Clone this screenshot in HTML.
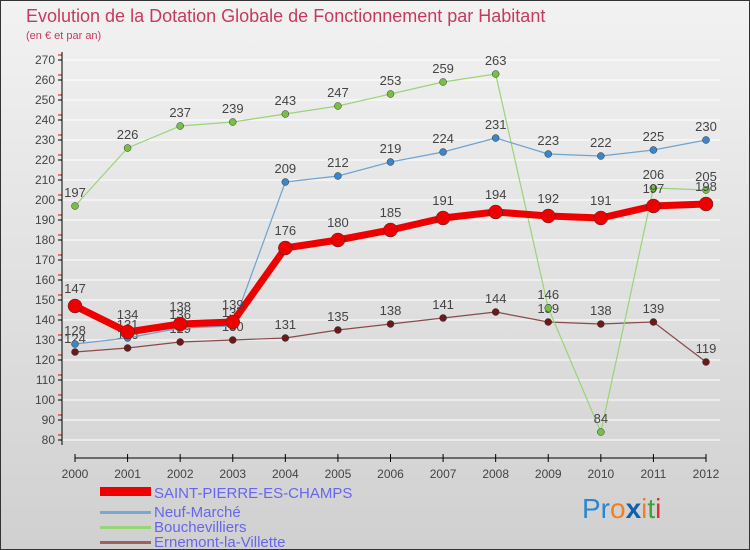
<!DOCTYPE html>
<html><head><meta charset="utf-8"><style>
body{margin:0;}
#wrap{width:750px;height:550px;position:relative;overflow:hidden;background:linear-gradient(#f2f2f2,#d0d0d0);font-family:"Liberation Sans",sans-serif;}
svg{position:absolute;left:0;top:0;}
</style></head><body>
<div id="wrap">
<svg id="chart" width="750" height="550">
<rect x="0.5" y="0.5" width="749" height="549" fill="none" stroke="#333"/>
<text x="26" y="22" font-size="18" fill="#c8395f">Evolution de la Dotation Globale de Fonctionnement par Habitant</text>
<text x="26" y="39" font-size="11" fill="#c8395f">(en € et par an)</text>
<g id="grid"></g><g id="axes"></g><g id="series"></g>
<g>
<rect x="100" y="487" width="51" height="9" fill="#e00"/>
<text x="154" y="498" font-size="15" fill="#6666ee">SAINT-PIERRE-ES-CHAMPS</text>
<rect x="100" y="511" width="51" height="3" fill="#7aa8d0"/>
<text x="154" y="517" font-size="15" fill="#6666ee">Neuf-Marché</text>
<rect x="100" y="526" width="51" height="3" fill="#99d477"/>
<text x="154" y="532" font-size="15" fill="#6666ee">Bouchevilliers</text>
<rect x="100" y="541" width="51" height="3" fill="#a06060"/>
<text x="154" y="547" font-size="15" fill="#6666ee">Ernemont-la-Villette</text>
</g>
<text x="582" y="518" font-size="28"><tspan fill="#2a86d0">Pr</tspan><tspan fill="#f08020">o</tspan><tspan fill="#1060b0" font-weight="bold">x</tspan><tspan fill="#f08020">i</tspan><tspan fill="#40a040">t</tspan><tspan fill="#e03030">i</tspan></text>
</svg></div>
<script>
const years=[2000,2001,2002,2003,2004,2005,2006,2007,2008,2009,2010,2011,2012];
const spc=[147,134,138,139,176,180,185,191,194,192,191,197,198];
const neuf=[128,131,136,137,209,212,219,224,231,223,222,225,230];
const bouch=[197,226,237,239,243,247,253,259,263,146,84,206,205];
const ern=[124,126,129,130,131,135,138,141,144,139,138,139,119];
const yTicks=[80,90,100,110,120,130,140,150,160,170,180,190,200,210,220,230,240,250,260,270];
const NS="http://www.w3.org/2000/svg";
function X(i){return 75+i*(706-75)/(years.length-1);}
function Y(v){return 440-(v-80)*2;}
function mk(t,a,p){const e=document.createElementNS(NS,t);for(const k in a)e.setAttribute(k,a[k]);p.appendChild(e);return e;}
const grid=document.getElementById('grid'),axes=document.getElementById('axes'),ser=document.getElementById('series');
yTicks.forEach(v=>{
 const l=mk('line',{x1:62,x2:720,y1:Y(v),y2:Y(v),stroke:'#fff','stroke-width':1},grid);
 
 
 mk('line',{x1:58,x2:62,y1:Y(v),y2:Y(v),stroke:'#000'},axes);
 mk('line',{x1:58,x2:62,y1:Y(v)-5,y2:Y(v)-5,stroke:'#e00'},axes);
 const t=mk('text',{x:55,y:Y(v)+4,'font-size':12,fill:'#444','text-anchor':'end'},axes);
 t.textContent=v;
 
 
});
const ya=mk('line',{x1:62,x2:62,y1:52,y2:445,stroke:'#000'},axes);


const xa=mk('line',{x1:75,x2:706,y1:458,y2:458,stroke:'#000'},axes);


years.forEach((yr,i)=>{
 mk('line',{x1:X(i),x2:X(i),y1:454,y2:462,stroke:'#000'},axes);
 const t=mk('text',{x:X(i),y:478,'font-size':12,fill:'#444','text-anchor':'middle'},axes);
 t.textContent=yr;
 
 
});
function draw(vals,color,dot,w,r,name){
 const g=mk('g',{},ser);
 
 
 mk('polyline',{points:vals.map((v,i)=>X(i)+','+Y(v)).join(' '),fill:'none',stroke:color,'stroke-width':w,'stroke-linejoin':'round'},g);
 vals.forEach((v,i)=>{
  const c=mk('circle',{cx:X(i),cy:Y(v),r:r,fill:dot,stroke:'#333','stroke-width':0.5},g);
  
  
  const t=mk('text',{x:X(i),y:Y(v)-9-(r>5?4:0),'font-size':13,fill:'#444','text-anchor':'middle'},g);
  t.textContent=v;
  
  
 });
}
draw(ern,'#8a4a4a','#6a1a1a',1.2,3.5,'ernemont');
draw(bouch,'#99d477','#77c044',1.2,3.5,'bouchevilliers');
draw(neuf,'#6fa3d0','#3a86c8',1.2,3.5,'neuf-marche');
draw(spc,'#ee0000','#ee0000',7,7,'saint-pierre');
</script>
</body></html>
